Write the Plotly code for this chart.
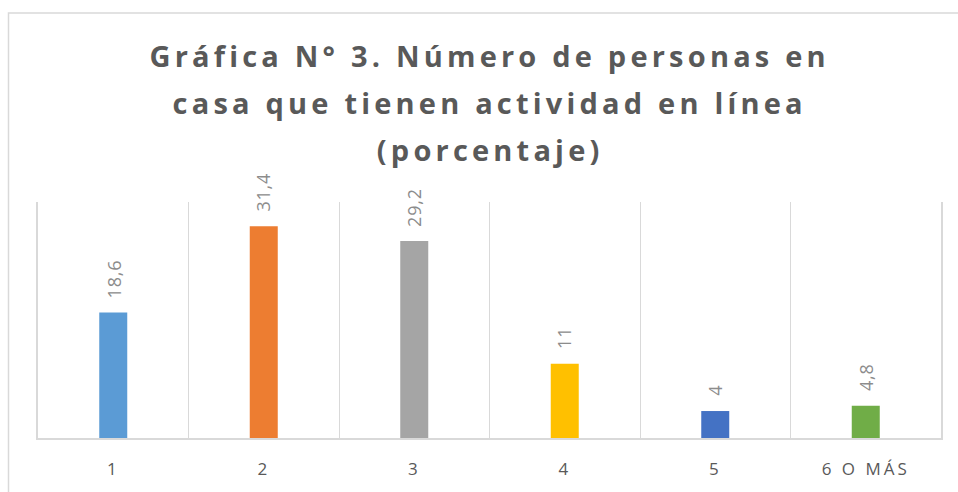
import plotly.graph_objects as go

categories = ["1", "2", "3", "4", "5", "6 O MÁS"]
values = [18.6, 31.4, 29.2, 11, 4, 4.8]
bar_colors = ["#5B9BD5", "#ED7D31", "#A5A5A5", "#FFC000", "#4472C4", "#70AD47"]
title_lines = [
    "Gráfica N° 3. Número de personas en",
    "casa que tienen actividad en línea",
    "(porcentaje)",
]

fig = go.Figure()
fig.add_trace(go.Bar(
    x=categories, y=values,
    marker=dict(color=bar_colors, line=dict(width=0)),
    hoverinfo="skip",
))

# data labels, placed through the data scales (category index on x)
for i, v in enumerate(values):
    fig.add_annotation(
        x=i, y=v, xref="x", yref="y", text=f"{v:g}".replace(".", ","),
        textangle=-90, showarrow=False, yanchor="bottom", xanchor="center", yshift=14,
        font=dict(family="Open Sans", size=18, color="#8C8C8C"),
    )

W, H = 958, 492
ml, mr, mt, mb = 38, 17, 202, 52
ph = H - mt - mb
title_y = [54, 102, 149]
for line, yy in zip(title_lines, title_y):
    fig.add_annotation(
        text=line, xref="paper", yref="paper", x=0.5, xanchor="center",
        y=(H - mb - yy) / ph, yanchor="middle", showarrow=False,
        font=dict(family="Open Sans", size=29, color="#595959", weight="bold"),
    )

# outer chart border
pw = W - ml - mr
fig.add_shape(type="rect", xref="paper", yref="paper",
              x0=(8.5 - ml) / pw, x1=(970 - ml) / pw,
              y0=(H - mb - 500) / ph, y1=(H - mb - 11.5) / ph,
              line=dict(color="#D9D9D9", width=1.5), fillcolor="rgba(0,0,0,0)", layer="below")

fig.update_layout(
    width=W, height=H,
    margin=dict(l=ml, r=mr, t=mt, b=mb),
    paper_bgcolor="white", plot_bgcolor="white",
    bargap=0.814,
    showlegend=False,
    xaxis=dict(type="category", tickson="boundaries", showgrid=True, gridcolor="#D9D9D9", gridwidth=1,
               showline=True, linecolor="#D9D9D9", linewidth=2, ticks="", ticklabelstandoff=15,
               tickfont=dict(family="Open Sans", size=17, color="#595959"), fixedrange=True),
    yaxis=dict(range=[0, 35], showgrid=False, showticklabels=False, zeroline=False,
               showline=True, mirror=True, linecolor="#D9D9D9", linewidth=1.5, ticks="", fixedrange=True),
)

post = """
(function(){
  document.body.style.margin = '0';
  function ls(){
    document.querySelectorAll('.annotation-text').forEach(function(e){
      var t = e.textContent;
      if (t.length > 10) e.style.letterSpacing = '4.2px';
      else e.style.letterSpacing = '0.8px';
    });
    document.querySelectorAll('.xtick text').forEach(function(e){ e.style.letterSpacing = '3px'; });
  }
  ls();
  var gd = document.getElementById('{plot_id}');
  if (gd && gd.on) gd.on('plotly_afterplot', ls);
})();
"""
fig.write_html("out.html", post_script=post, config={"displayModeBar": False})
